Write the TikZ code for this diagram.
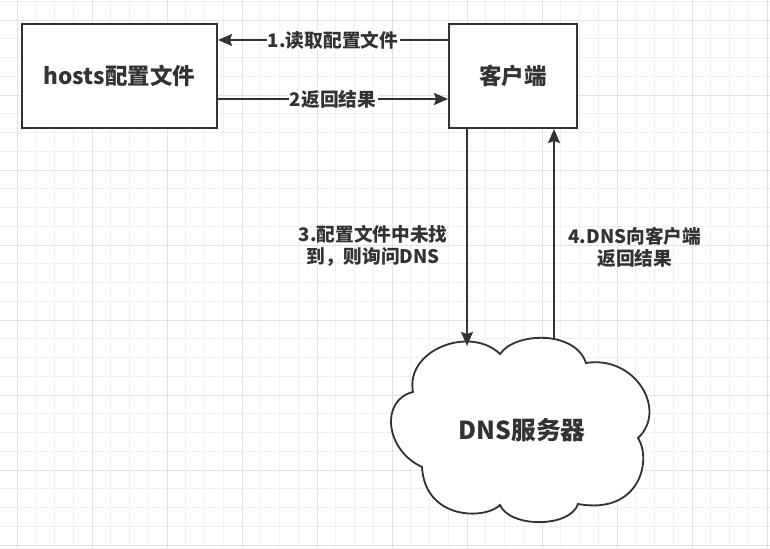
\documentclass[tikz,border=0pt]{standalone}
\usepackage{fontspec}
\setmainfont{Noto Sans CJK SC}
\usetikzlibrary{arrows.meta, positioning, calc}
\definecolor{ink}{HTML}{333333}
\definecolor{gridfine}{HTML}{F0F0F0}
\definecolor{gridbold}{HTML}{E2E2E2}
\tikzset{
  box/.style={rectangle, draw=ink, fill=white, line width=1.4pt, text=ink,
              minimum width=#1, minimum height=2.6cm, inner sep=0pt,
              font=\fontsize{16}{19}\selectfont\bfseries},
  box/.default=3.2cm,
  flowlbl/.style={fill=white, text=ink, inner sep=1pt,
                  font=\fontsize{13.3}{15.6}\selectfont\bfseries},
  sidelbl/.style={text=ink, inner sep=0pt, align=center,
                  font=\fontsize{13.3}{15.6}\selectfont\bfseries},
  arr/.style={-{Stealth[length=10pt, width=8.5pt, inset=1.5pt]}, line width=1.4pt, draw=ink},
  cloudline/.style={draw=ink, fill=white, line width=1.3pt},
  gridminor/.style={gridfine, line width=0.7pt},
  gridmajor/.style={gridbold, line width=0.7pt},
}

\begin{document}
\begin{tikzpicture}[x=0.025cm, y=-0.025cm]
  \useasboundingbox (0,0) rectangle (770,548);

  % --- background grid ---
  \begin{scope}
    \clip (0,0) rectangle (770,548);
    \foreach \gx in {-1,...,41}
      \draw[gridminor] ({17+18.75*\gx},0) -- ++(0,548);
    \foreach \gy in {-1,...,28}
      \draw[gridminor] (0,{20+18.75*\gy}) -- ++(770,0);
    \foreach \gx in {0,...,10}
      \draw[gridmajor] ({17+75*\gx},0) -- ++(0,548);
    \foreach \gy in {0,...,7}
      \draw[gridmajor] (0,{20+75*\gy}) -- ++(770,0);
  \end{scope}

  % --- hosts file and client ---
  \node[box=4.875cm] (hosts) at (119.5,76) {hosts配置文件};
  \node[box, right=5.75cm of hosts] (client) {客户端};

  % --- DNS server cloud ---
  \draw[cloudline] (413,392) .. controls (405,350) and (470,325) .. (500,354)
    .. controls (515,332) and (575,330) .. (586,363)
    .. controls (635,355) and (668,410) .. (638,438)
    .. controls (652,460) and (640,515) .. (578,504)
    .. controls (570,528) and (510,528) .. (500,505)
    .. controls (485,520) and (425,520) .. (422,467)
    .. controls (385,450) and (380,400) .. cycle;
  \node[text=ink, font=\fontsize{17.6}{21}\selectfont\bfseries] (dns) at (522,430) {DNS服务器};
  \coordinate (dnsin) at (467,346);
  \coordinate (dnsout) at (554,338);

  % --- lookups ---
  \draw[arr] ([yshift=0.9cm]client.west) -- node[flowlbl] {1.读取配置文件} ([yshift=0.9cm]hosts.east);
  \draw[arr] ([yshift=-0.575cm]hosts.east) -- node[flowlbl] {2返回结果} ([yshift=-0.575cm]client.west);
  \draw[arr] (dnsin |- client.south) -- node[sidelbl, pos=0.54, left=0.46cm] {3.配置文件中未找\\到，则询问DNS} (dnsin);
  \draw[arr] (dnsout) -- node[sidelbl, pos=0.435, right=0.34cm] {4.DNS向客户端\\返回结果} (dnsout |- client.south);
\end{tikzpicture}
\end{document}
